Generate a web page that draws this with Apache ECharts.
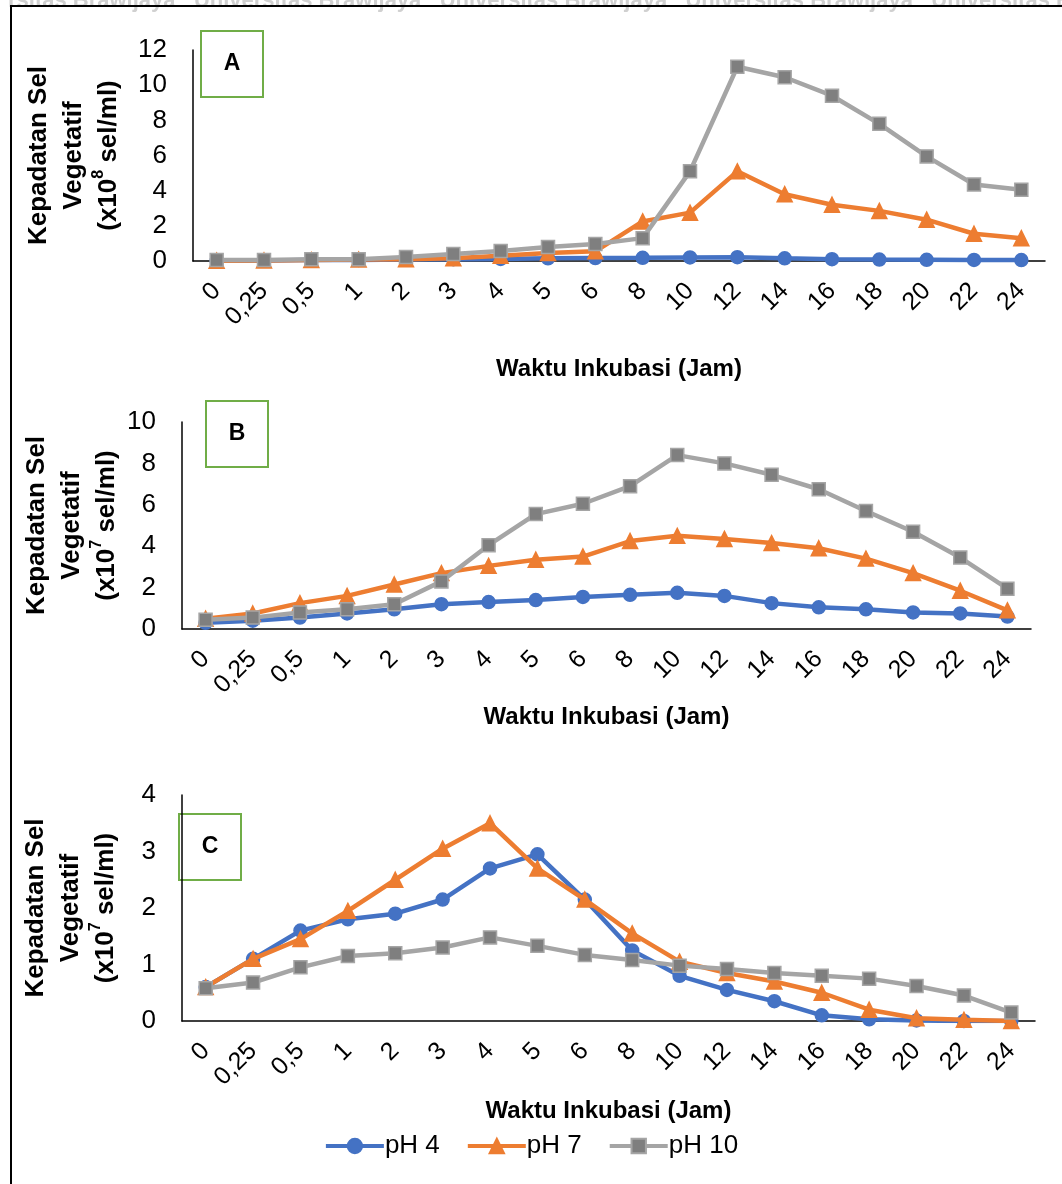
<!DOCTYPE html>
<html>
<head>
<meta charset="utf-8">
<script src="https://cdn.jsdelivr.net/npm/echarts@6/dist/echarts.min.js"></script>
<style>
  html, body { margin: 0; padding: 0; background: #fff; }
  #chart { width: 1062px; height: 1184px; }
</style>
</head>
<body>
<div id="chart"></div>
<script>
// Waktu inkubasi (jam)
var jam = ['0', '0,25', '0,5', '1', '2', '3', '4', '5', '6', '8', '10', '12', '14', '16', '18', '20', '22', '24'];

// Panel A (x10^8 sel/ml)
var aPH4  = [0.02, 0.03, 0.05, 0.06, 0.08, 0.1, 0.12, 0.15, 0.17, 0.18, 0.2, 0.22, 0.15, 0.1, 0.08, 0.07, 0.06, 0.05];
var aPH7  = [0.02, 0.03, 0.05, 0.08, 0.1, 0.15, 0.3, 0.45, 0.55, 2.25, 2.75, 5.1, 3.8, 3.2, 2.85, 2.35, 1.55, 1.3];
var aPH10 = [0.05, 0.05, 0.1, 0.1, 0.23, 0.4, 0.57, 0.8, 0.97, 1.3, 5.1, 11.05, 10.45, 9.4, 7.8, 5.95, 4.35, 4.05];

// Panel B (x10^7 sel/ml)
var bPH4  = [0.3, 0.4, 0.55, 0.75, 0.95, 1.2, 1.3, 1.4, 1.55, 1.65, 1.75, 1.6, 1.25, 1.05, 0.95, 0.8, 0.75, 0.6];
var bPH7  = [0.5, 0.75, 1.25, 1.6, 2.15, 2.7, 3.05, 3.35, 3.5, 4.25, 4.5, 4.35, 4.15, 3.9, 3.4, 2.7, 1.85, 0.9];
var bPH10 = [0.45, 0.55, 0.8, 0.95, 1.2, 2.3, 4.05, 5.55, 6.05, 6.9, 8.4, 8.0, 7.45, 6.75, 5.7, 4.7, 3.45, 1.95];

// Panel C (x10^7 sel/ml)
var cPH4  = [0.6, 1.1, 1.6, 1.8, 1.9, 2.15, 2.7, 2.95, 2.15, 1.25, 0.8, 0.55, 0.35, 0.1, 0.03, 0.01, 0.0, 0.0];
var cPH7  = [0.6, 1.1, 1.45, 1.95, 2.5, 3.05, 3.5, 2.7, 2.15, 1.55, 1.05, 0.85, 0.7, 0.5, 0.2, 0.05, 0.02, 0.0];
var cPH10 = [0.58, 0.68, 0.95, 1.15, 1.2, 1.3, 1.48, 1.33, 1.17, 1.08, 0.98, 0.92, 0.85, 0.8, 0.75, 0.62, 0.45, 0.15];

var seriesNames = ['pH 4', 'pH 7', 'pH 10'];
var yMax = [12, 10, 4];
var yInterval = [2, 2, 1];
var yExp = ['8', '7', '7'];
var panels = [[aPH4, aPH7, aPH10], [bPH4, bPH7, bPH10], [cPH4, cPH7, cPH10]];

var FONT = '"Liberation Sans", Arial, sans-serif';
var BLUE = '#4472C4', ORANGE = '#ED7D31', GRAY = '#A5A5A5';

var grids = [
    {left: 193, top: 50, width: 852, height: 211},
    {left: 182, top: 422, width: 849, height: 207},
    {left: 182, top: 795, width: 853, height: 226}
];

var xAxes = [], yAxes = [], series = [];
for (var i = 0; i < 3; i++) {
    xAxes.push({
        type: 'category',
        gridIndex: i,
        data: jam,
        boundaryGap: true,
        axisLine: {lineStyle: {color: '#000', width: 1.5}},
        axisTick: {show: false},
        axisLabel: {rotate: 45, color: '#000', fontSize: 25, fontFamily: FONT, margin: 26},
        name: 'Waktu Inkubasi (Jam)',
        nameLocation: 'middle',
        nameMoveOverlap: false,
        nameGap: [96, 76, 78][i],
        nameTextStyle: {color: '#000', fontSize: 24, fontWeight: 'bold', fontFamily: FONT}
    });
    yAxes.push({
        type: 'value',
        gridIndex: i,
        min: 0,
        max: yMax[i],
        interval: yInterval[i],
        splitLine: {show: false},
        axisLine: {show: true, lineStyle: {color: '#000', width: 1.5}},
        axisTick: {show: false},
        axisLabel: {color: '#000', fontSize: 26, fontFamily: FONT, margin: 26},
        name: 'Kepadatan Sel\nVegetatif\n(x10{sup|' + yExp[i] + '} sel/ml)',
        nameLocation: 'middle',
        nameRotate: 90,
        nameMoveOverlap: false,
        nameGap: [67, 58, 59][i],
        nameTextStyle: {
            color: '#000', fontSize: 26, fontWeight: 'bold', fontFamily: FONT, lineHeight: 35,
            rich: {sup: {fontSize: 16, fontWeight: 'bold', fontFamily: FONT, color: '#000', verticalAlign: 'top', lineHeight: 26}}
        }
    });
    var styles = [
        {color: BLUE, symbol: 'circle', size: 13, border: BLUE},
        {color: ORANGE, symbol: 'triangle', size: 15, border: ORANGE},
        {color: '#7F7F7F', symbol: 'rect', size: 13, border: GRAY}
    ];
    for (var s = 0; s < 3; s++) {
        series.push({
            name: seriesNames[s],
            type: 'line',
            xAxisIndex: i,
            yAxisIndex: i,
            data: panels[i][s],
            symbol: styles[s].symbol,
            symbolSize: styles[s].size,
            lineStyle: {color: [BLUE, ORANGE, GRAY][s], width: 4.5},
            itemStyle: {color: styles[s].color, borderColor: styles[s].border, borderWidth: 1.5},
            animation: false,
            z: 2 + s
        });
    }
}

// kotak label panel
function panelBox(label, x, y) {
    return {
        type: 'group', left: x, top: y,
        children: [
            {type: 'rect', shape: {x: 0, y: 0, width: 62, height: 66}, style: {fill: '#fff', stroke: '#70AD47', lineWidth: 2}},
            {type: 'text', x: 31, y: 33, style: {text: label, fill: '#000', font: 'bold 23px ' + FONT, textAlign: 'center', textVerticalAlign: 'middle'}}
        ]
    };
}

var option = {
    backgroundColor: '#fff',
    animation: false,
    grid: grids,
    xAxis: xAxes,
    yAxis: yAxes,
    series: series,
    legend: {
        data: seriesNames,
        bottom: 20,
        left: 'center',
        itemWidth: 58,
        itemHeight: 18,
        itemGap: 26,
        lineStyle: {width: 4},
        textStyle: {color: '#000', fontSize: 26, fontFamily: FONT, padding: [0, 0, 0, -4]}
    },
    graphic: [
        {type: 'text', left: 8, top: -10, z: 0,
         style: {text: 'rsitas Brawijaya   Universitas Brawijaya   Universitas Brawijaya   Universitas Brawijaya   Universitas Bra',
                 fill: '#d0d0d0', font: 'bold 22px ' + FONT}},
        {type: 'line', shape: {x1: 10, y1: 6, x2: 1062, y2: 6}, style: {stroke: '#000', lineWidth: 2}},
        {type: 'line', shape: {x1: 11, y1: 6, x2: 11, y2: 1184}, style: {stroke: '#000', lineWidth: 2}},
        panelBox('A', 200, 30),
        panelBox('B', 205, 400),
        panelBox('C', 178, 813)
    ]
};

var myChart = echarts.init(document.getElementById('chart'));
if (option && typeof option === 'object') {
    myChart.setOption(option, true);
}
</script>
</body>
</html>
